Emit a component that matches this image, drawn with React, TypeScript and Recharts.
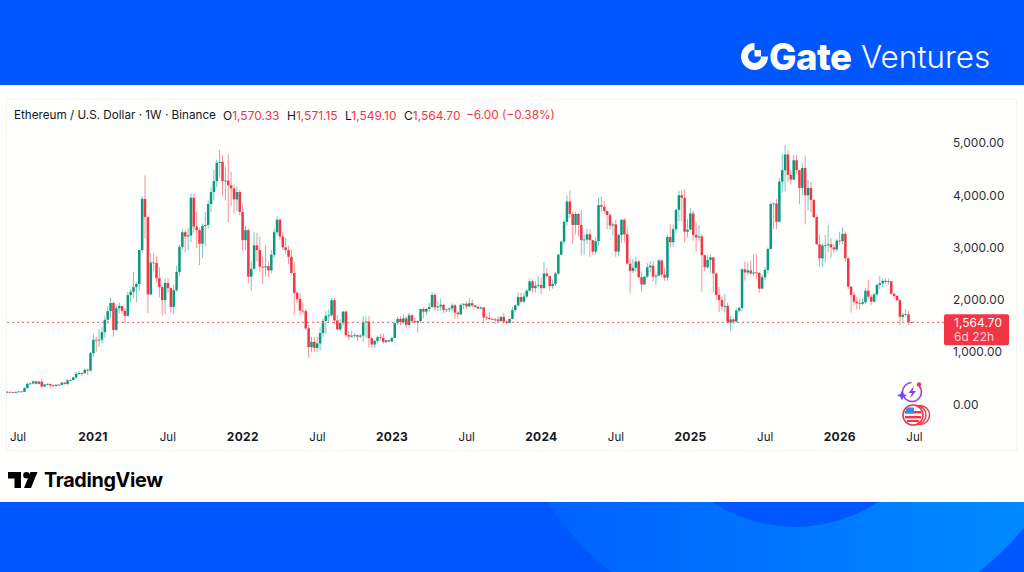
import { Bar, ComposedChart, ReferenceLine, XAxis, YAxis } from 'recharts';

const FONT = 'Inter, "Noto Sans", sans-serif';
const UP = '#089981';
const DOWN = '#f23645';
const INK = '#131722';

// weekly candles, first one is the week of 8 Jun 2020
const firstOpen = 231;
const closes = [
    233, 229, 225, 228, 240, 233, 305, 385, 395, 433,
    388, 428, 335, 375, 385, 355, 345, 370, 365, 410,
    385, 455, 460, 510, 575, 595, 590, 655, 640, 975,
    1230, 1225, 1232, 1377, 1614, 1780, 1935, 1420, 1835, 1880,
    1785, 1690, 2085, 2150, 2240, 2300, 2950, 3930, 3580, 2100,
    2710, 2700, 2410, 2240, 1990, 2320, 2220, 1860, 2180, 2530,
    3010, 3290, 3210, 3230, 3950, 3400, 3330, 3070, 3410, 3430,
    3830, 4060, 4270, 4620, 4640, 4270, 4280, 4190, 4130, 3920,
    4060, 3680, 3140, 3330, 2440, 2590, 3040, 2950, 2630, 2620,
    2640, 2560, 2860, 3290, 3530, 3210, 3000, 2950, 2820, 2510,
    2130, 2010, 1790, 1780, 1450, 1090, 1190, 1075, 1160, 1360,
    1590, 1690, 1700, 1990, 1600, 1430, 1550, 1770, 1320, 1290,
    1310, 1320, 1290, 1310, 1570, 1580, 1260, 1140, 1210, 1280,
    1265, 1190, 1220, 1200, 1265, 1550, 1630, 1570, 1640, 1515,
    1700, 1590, 1565, 1590, 1820, 1770, 1820, 1860, 2090, 1850,
    1870, 1900, 1800, 1810, 1830, 1890, 1750, 1720, 1900, 1920,
    1870, 1930, 1890, 1860, 1830, 1850, 1660, 1650, 1630, 1620,
    1620, 1590, 1670, 1580, 1555, 1630, 1800, 1890, 2050, 1960,
    2060, 2170, 2350, 2220, 2265, 2280, 2220, 2500, 2450, 2260,
    2300, 2500, 2860, 3110, 3490, 3880, 3640, 3430, 3640, 3430,
    3140, 3150, 3250, 3140, 2920, 3120, 3810, 3780, 3700, 3620,
    3420, 3440, 2920, 3240, 3530, 3250, 2690, 2550, 2610, 2730,
    2430, 2290, 2440, 2620, 2650, 2440, 2460, 2750, 2480, 2420,
    3200, 3100, 3350, 3720, 4000, 3950, 3300, 3340, 3650, 3240,
    3190, 3210, 2850, 2620, 2760, 2810, 2500, 2090, 1990, 1870,
    1880, 1560, 1620, 1580, 1790, 1840, 2580, 2520, 2560, 2500,
    2520, 2510, 2210, 2430, 2570, 2970, 3830, 3840, 3490, 4260,
    4480, 4780, 4390, 4300, 4670, 4480, 4140, 4520, 4000, 4140,
    3910, 3580, 3060, 2790, 3040, 3040, 3060, 3000, 2960, 3130,
    3120, 3260, 2790, 2250, 2090, 1960, 1930, 1920, 1950, 2170,
    2055, 1960, 2100, 2280, 2310, 2360, 2340, 2350, 2110, 2070,
    1990, 1670, 1710, 1720, 1570.33, 1564.7,
];
const highs = [
    250, 237, 236, 245, 250, 245, 325, 415, 410, 445,
    445, 440, 490, 385, 395, 390, 375, 375, 385, 420,
    420, 470, 475, 520, 620, 630, 610, 680, 680, 1000,
    1350, 1290, 1440, 1475, 1690, 1870, 2040, 1965, 1880, 1945,
    1875, 1830, 2145, 2200, 2530, 2330, 2950, 3985, 4380, 3600,
    2890, 2900, 2830, 2620, 2280, 2410, 2410, 2230, 2280, 2650,
    3050, 3350, 3330, 3375, 4030, 4030, 3680, 3370, 3460, 3680,
    3900, 4150, 4480, 4680, 4870, 4770, 4550, 4780, 4450, 4200,
    4170, 4100, 3830, 3410, 3360, 2730, 3290, 3280, 3200, 2830,
    3040, 2730, 2950, 3360, 3590, 3560, 3300, 3180, 3030, 2970,
    2720, 2160, 2130, 1950, 1820, 1510, 1290, 1280, 1290, 1470,
    1640, 1780, 1810, 2030, 2030, 1700, 1630, 1790, 1790, 1400,
    1400, 1360, 1330, 1340, 1680, 1680, 1680, 1290, 1230, 1310,
    1350, 1350, 1230, 1230, 1290, 1560, 1680, 1680, 1720, 1680,
    1745, 1720, 1660, 1600, 1830, 1850, 1830, 1940, 2140, 2130,
    1960, 2020, 1910, 1830, 1850, 1930, 1910, 1770, 1930, 1930,
    1960, 2030, 2000, 1900, 1880, 1870, 1850, 1680, 1750, 1660,
    1650, 1680, 1680, 1750, 1600, 1640, 1860, 1910, 2130, 2130,
    2135, 2200, 2400, 2380, 2350, 2450, 2420, 2720, 2610, 2460,
    2390, 2530, 2880, 3130, 3520, 4000, 4090, 3680, 3680, 3660,
    3720, 3240, 3360, 3350, 3140, 3190, 3950, 3970, 3890, 3700,
    3660, 3480, 3520, 3260, 3540, 3560, 3400, 2790, 2780, 2820,
    2760, 2540, 2450, 2700, 2730, 2730, 2500, 2770, 2770, 2600,
    3240, 3440, 3440, 3740, 4090, 4100, 4110, 3540, 3750, 3700,
    3480, 3430, 3260, 2860, 2850, 2860, 2800, 2520, 2240, 2060,
    2110, 1950, 1690, 1660, 1830, 1870, 2600, 2730, 2720, 2750,
    2870, 2870, 2530, 2480, 2620, 3000, 3860, 3860, 3930, 4330,
    4790, 4960, 4870, 4490, 4770, 4770, 4480, 4620, 4760, 4290,
    4250, 3920, 3620, 3250, 3080, 3240, 3430, 3180, 3060, 3170,
    3300, 3384, 3300, 2800, 2250, 2150, 2060, 2020, 2030, 2220,
    2380, 2100, 2130, 2310, 2450, 2400, 2420, 2400, 2360, 2130,
    2090, 2010, 1750, 1820, 1790, 1571.15,
];
const lows = [
    225, 216, 218, 222, 225, 225, 232, 300, 365, 375,
    375, 375, 308, 325, 355, 310, 330, 335, 355, 360,
    370, 365, 440, 455, 480, 560, 530, 580, 560, 620,
    895, 1000, 1090, 1160, 1270, 1565, 1640, 1290, 1400, 1730,
    1730, 1550, 1680, 1940, 2030, 1950, 2170, 2900, 3170, 1740,
    2090, 2540, 2320, 2040, 1700, 1720, 2130, 1750, 1720, 2150,
    2450, 2950, 2900, 2950, 3100, 3280, 2990, 2660, 2800, 3020,
    3360, 3680, 3900, 4150, 4330, 3980, 3900, 3480, 3800, 3640,
    3700, 3620, 2930, 2950, 2310, 2170, 2580, 2730, 2520, 2300,
    2450, 2430, 2500, 2800, 3240, 3140, 2950, 2880, 2680, 2480,
    1710, 1930, 1710, 1730, 1420, 880, 1000, 1000, 1010, 1020,
    1280, 1350, 1550, 1680, 1530, 1420, 1400, 1500, 1270, 1220,
    1270, 1260, 1210, 1260, 1190, 1270, 1075, 1080, 1075, 1160,
    1220, 1155, 1165, 1185, 1190, 1260, 1510, 1510, 1540, 1450,
    1460, 1560, 1560, 1370, 1550, 1650, 1700, 1760, 1840, 1790,
    1780, 1790, 1740, 1760, 1760, 1770, 1630, 1630, 1700, 1820,
    1820, 1850, 1860, 1840, 1810, 1810, 1550, 1610, 1610, 1610,
    1530, 1570, 1570, 1550, 1520, 1540, 1620, 1760, 1870, 1930,
    1930, 2020, 2160, 2140, 2135, 2210, 2100, 2210, 2420, 2170,
    2210, 2260, 2470, 2850, 3060, 3420, 3560, 3060, 3250, 3210,
    2860, 2860, 3070, 2820, 2860, 2860, 3030, 3670, 3650, 3350,
    3340, 3230, 2820, 2830, 3090, 3090, 2680, 2120, 2510, 2540,
    2400, 2150, 2280, 2420, 2530, 2340, 2280, 2440, 2440, 2360,
    2360, 3000, 3010, 3280, 3500, 3500, 3100, 3190, 3350, 3130,
    2920, 3130, 2150, 2540, 2590, 2510, 2140, 1990, 1760, 1790,
    1750, 1540, 1390, 1540, 1560, 1750, 1780, 2360, 2470, 2480,
    2450, 2400, 2130, 2210, 2380, 2500, 2960, 3350, 3350, 3500,
    4050, 4070, 4250, 4210, 4280, 4400, 3825, 4000, 3440, 3710,
    3680, 3570, 3050, 2620, 2620, 2710, 2900, 2800, 2900, 2910,
    3050, 3060, 2730, 2200, 1750, 1890, 1810, 1810, 1900, 1910,
    2000, 1900, 1950, 2060, 2200, 2250, 2300, 2290, 2090, 2020,
    1960, 1510, 1590, 1680, 1510, 1549.1,
];

const lastPrice = 1564.7;
const countdown = '6d 22h';
const priceTicks = [0, 1000, 2000, 3000, 4000, 5000];
const timeTicks = [3.7, 29.8, 55.9, 82, 108, 134, 160, 186, 212, 238, 264, 290, 316];
const timeLabels = ['Jul', '2021', 'Jul', '2022', 'Jul', '2023', 'Jul', '2024', 'Jul', '2025', 'Jul', '2026', 'Jul'];

const legendNames = ['O', 'H', 'L', 'C'];
const legendValues = ['1,570.33', '1,571.15', '1,549.10', '1,564.70'];
const legendLeft = [223, 287, 345, 404];
const legendChange = '−6.00 (−0.38%)';

const candles = closes.map((close, i) => {
    const open = i === 0 ? firstOpen : i === closes.length - 1 ? 1570.33 : closes[i - 1];
    const high = Math.max(highs[i], open, close);
    const low = Math.min(lows[i], open, close);
    return { week: i, open, close, high, low, range: [low, high] };
});

function Candle(props: any) {
    const { x, y, width, height, payload } = props;
    const { open, close, high, low } = payload;
    const color = close >= open ? UP : DOWN;
    const toY = (v: number) => y + ((high - v) / (high - low)) * height;
    const top = toY(Math.max(open, close));
    const bottom = toY(Math.min(open, close));
    const cx = x + width / 2;
    return (
        <g>
            <line x1={cx} x2={cx} y1={y} y2={y + height} stroke={color} strokeWidth={1} strokeOpacity={0.55} />
            <rect x={x} y={top} width={width} height={Math.max(bottom - top, 0.8)} fill={color} />
        </g>
    );
}

function TimeTick({ x, y, index }: any) {
    const label = timeLabels[index];
    const isYear = label !== 'Jul';
    return (
        <text x={x} y={y + 8} textAnchor="middle" fontFamily={FONT} fontSize={isYear ? 12 : 11.5} fontWeight={isYear ? 700 : 400} letterSpacing={isYear ? 0.3 : 0} fill={INK}>
            {label}
        </text>
    );
}

function PriceTick({ x, y, payload }: any) {
    return (
        <text x={x + 1} y={y + 4.5} fontFamily={FONT} fontSize={11.9} letterSpacing={0.1} fill="#2a2e39">
            {payload.value.toLocaleString('en-US', { minimumFractionDigits: 2 })}
        </text>
    );
}

function PriceTag({ viewBox }: any) {
    const left = viewBox.x + viewBox.width;
    const top = viewBox.y - 8;
    return (
        <g fontFamily={FONT} fontSize={11.9} letterSpacing={0.1}>
            <rect x={left} y={top} width={65} height={31} rx={2} fill={DOWN} />
            <text x={left + 10} y={top + 13} fill="#fff">
                {lastPrice.toLocaleString('en-US', { minimumFractionDigits: 2 })}
            </text>
            <text x={left + 10} y={top + 27} fill="#ffd0d4">
                {countdown}
            </text>
        </g>
    );
}

function GateLogo() {
    return (
        <div style={{ position: 'absolute', left: 740, top: 40, width: 260, height: 34, color: '#fff' }}>
            <svg width={30} height={32} style={{ position: 'absolute', left: 0, top: 1 }}>
                <path d="M14.5 2 A13.5 13.5 0 1 0 28 15.5 L21 15.5 A6.5 6.5 0 1 1 14.5 9 Z" fill="#fff" />
                <rect x={14.5} y={9} width={6.5} height={6.5} fill="#fff" />
            </svg>
            <span style={{ position: 'absolute', left: 29, top: -3, fontFamily: FONT, fontSize: 36.5, fontWeight: 800, letterSpacing: -0.5, lineHeight: '40px' }}>Gate</span>
            <span style={{ position: 'absolute', left: 121, top: -3, fontFamily: FONT, fontSize: 31.4, fontWeight: 300, lineHeight: '40px' }}>Ventures</span>
        </div>
    );
}

function TradingViewLogo() {
    return (
        <div style={{ position: 'absolute', left: 8, top: 468, height: 24 }}>
            <svg width={32} height={24} style={{ position: 'absolute', left: 0, top: 0 }}>
                <path d="M0 4 H13 V20 H6.5 V10.5 H0 Z" fill="#000" />
                <circle cx={18.5} cy={7.3} r={3.3} fill="#000" />
                <path d="M22.5 4 H29.5 L23 20 H16 Z" fill="#000" />
            </svg>
            <span style={{ position: 'absolute', left: 36, top: -1, fontFamily: FONT, fontSize: 19.8, fontWeight: 700, letterSpacing: -0.35, color: '#000', whiteSpace: 'nowrap', lineHeight: '26px' }}>
                TradingView
            </span>
        </div>
    );
}

function Footer() {
    return (
        <svg width={1024} height={70} style={{ position: 'absolute', left: 0, top: 502 }}>
            <defs>
                <linearGradient id="ring" x1="0" x2="1" y1="0" y2="0">
                    <stop offset="0%" stopColor="#005dff" />
                    <stop offset="100%" stopColor="#0090ff" />
                </linearGradient>
            </defs>
            <rect width={1024} height={70} fill="#0056ff" />
            <circle cx={795} cy={-162} r={296} fill="url(#ring)" />
            <circle cx={795} cy={-125} r={150} fill="#0056ff" />
        </svg>
    );
}

function Badges() {
    return (
        <svg width={50} height={50} style={{ position: 'absolute', left: 893, top: 378 }}>
            <circle cx={19} cy={14} r={9.5} fill="none" stroke="#a03cc8" strokeWidth={1.6} strokeDasharray="44 8" />
            <path d="M21 8 L15.5 15 H19 L17 20.5 L23 13 H19.5 Z" fill="#8a3fe0" />
            <path d="M9 12.5 L10.6 15.9 L14 17.5 L10.6 19.1 L9 22.5 L7.4 19.1 L4 17.5 L7.4 15.9 Z" fill="#6a4cf0" />
            <circle cx={26} cy={6.5} r={2.2} fill={DOWN} />
            <circle cx={27} cy={37} r={9.5} fill="none" stroke={DOWN} strokeWidth={1.4} />
            <circle cx={23.5} cy={37} r={9.5} fill="#fff" stroke={DOWN} strokeWidth={1.4} />
            <circle cx={20} cy={37} r={10} fill="#fff" stroke={DOWN} strokeWidth={1.6} />
            <rect x={12} y={33} width={16} height={2.4} fill={DOWN} />
            <rect x={12} y={38} width={16} height={2.4} fill={DOWN} />
            <rect x={14} y={42} width={12} height={2} fill={DOWN} />
            <rect x={13} y={29.5} width={8} height={6} fill="#3d8bf2" />
        </svg>
    );
}

export default function App() {
    document.body.style.margin = '0';
    return (
        <div style={{ position: 'relative', width: 1024, height: 572, overflow: 'hidden', background: '#fffffe' }}>
            <div style={{ position: 'absolute', left: 0, top: 0, width: 1024, height: 85, background: '#0056ff' }} />
            <GateLogo />
            <div style={{ position: 'absolute', left: 6, top: 99, width: 1009, height: 350, border: '1px solid #f3f3f0', boxSizing: 'content-box' }} />
            <div style={{ position: 'absolute', left: 0, top: 107, width: 1024, height: 17, fontFamily: FONT, fontSize: 12, lineHeight: '17px', color: INK, whiteSpace: 'nowrap' }}>
                <span style={{ position: 'absolute', left: 14, fontSize: 11.7 }}>Ethereum / U.S. Dollar · 1W · Binance</span>
                {legendNames.map((name, i) => (
                    <span key={name} style={{ position: 'absolute', left: legendLeft[i] }}>
                        {name}
                        <span style={{ color: DOWN }}>{legendValues[i]}</span>
                    </span>
                ))}
                <span style={{ position: 'absolute', left: 466, fontSize: 11.8, color: DOWN }}>{legendChange}</span>
            </div>
            <div style={{ position: 'absolute', left: 0, top: 0 }}>
                <ComposedChart width={1024} height={572} data={candles} margin={{ top: 130, right: 0, bottom: 117, left: 6 }}>
                    <XAxis
                        type="number"
                        dataKey="week"
                        domain={[-0.5, 326.3]}
                        ticks={timeTicks}
                        tick={<TimeTick />}
                        interval={0}
                        axisLine={false}
                        tickLine={false}
                        height={30}
                        allowDataOverflow
                    />
                    <YAxis
                        orientation="right"
                        domain={[-402, 5249]}
                        ticks={priceTicks}
                        tick={<PriceTick />}
                        axisLine={false}
                        tickLine={false}
                        width={80}
                        interval={0}
                        allowDataOverflow
                    />
                    <ReferenceLine y={lastPrice} stroke="#f7525f" strokeDasharray="2 3" label={<PriceTag />} />
                    <Bar dataKey="range" barSize={2.5} shape={<Candle />} isAnimationActive={false} />
                </ComposedChart>
            </div>
            <Badges />
            <TradingViewLogo />
            <Footer />
        </div>
    );
}
